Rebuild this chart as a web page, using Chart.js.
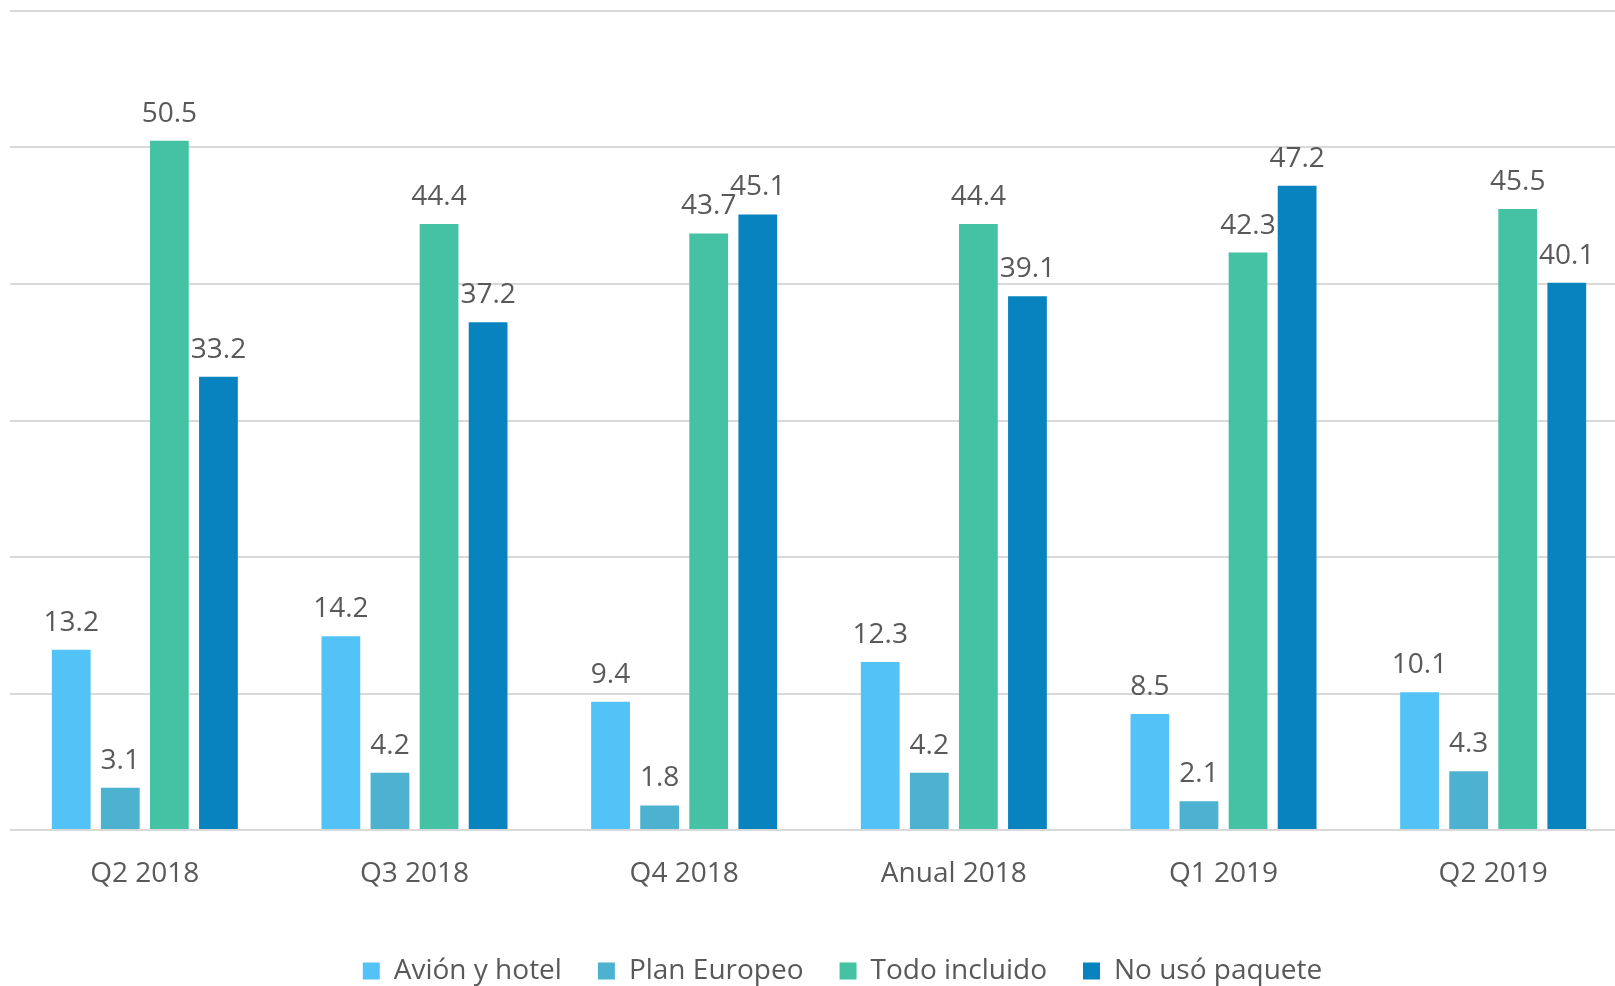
<!DOCTYPE html>
<html>
<head>
<meta charset="utf-8">
<script src="https://cdn.jsdelivr.net/npm/chart.js@4"></script>
<style>
  html, body { margin: 0; padding: 0; background: #fff; }
  #wrap { width: 1615px; height: 986px; }
</style>
</head>
<body>
<div id="wrap"><canvas id="chart"></canvas></div>
<script>
const categories = ["Q2 2018", "Q3 2018", "Q4 2018", "Anual 2018", "Q1 2019", "Q2 2019"];
const avionHotel = [13.2, 14.2, 9.4, 12.3, 8.5, 10.1];
const planEuropeo = [3.1, 4.2, 1.8, 4.2, 2.1, 4.3];
const todoIncluido = [50.5, 44.4, 43.7, 44.4, 42.3, 45.5];
const noUsoPaquete = [33.2, 37.2, 45.1, 39.1, 47.2, 40.1];

const textColor = "#595959";
const fontFamily = "'Open Sans', 'Noto Sans', sans-serif";

// draws the value over each bar
const valueLabels = {
  id: "valueLabels",
  afterDatasetsDraw(chart) {
    const ctx = chart.ctx;
    ctx.save();
    ctx.font = "28px " + fontFamily;
    ctx.fillStyle = textColor;
    ctx.textAlign = "center";
    ctx.textBaseline = "alphabetic";
    chart.data.datasets.forEach((ds, i) => {
      chart.getDatasetMeta(i).data.forEach((bar, j) => {
        ctx.fillText(ds.data[j].toFixed(1), bar.x, bar.y - 19);
      });
    });
    ctx.restore();
  }
};

// the original is cropped on the right: let the category axis run past the edge,
// and nudge the legend to where it sits there
const layoutTweaks = {
  id: "layoutTweaks",
  afterLayout(chart) {
    const xs = chart.scales.x;
    xs.right += 13;
    xs.width += 13;
    xs.configure();
    const lg = chart.legend;
    if (!lg) return;
    lg.top += 9; lg.bottom += 9;
    lg.left += 30; lg.right += 30;
  }
};

new Chart(document.getElementById("chart"), {
  type: "bar",
  data: {
    labels: categories,
    datasets: [
      { label: "Avión y hotel", data: avionHotel, backgroundColor: "#53c2f7" },
      { label: "Plan Europeo", data: planEuropeo, backgroundColor: "#4db2cf" },
      { label: "Todo incluido", data: todoIncluido, backgroundColor: "#45c2a3" },
      { label: "No usó paquete", data: noUsoPaquete, backgroundColor: "#0983bf" }
    ]
  },
  options: {
    responsive: true,
    maintainAspectRatio: false,
    animation: false,
    categoryPercentage: 0.728,
    barPercentage: 0.79,
    layout: { padding: { left: 10, right: 0, top: 11, bottom: 0 } },
    plugins: {
      tooltip: { enabled: false },
      legend: {
        position: "bottom",
        labels: {
          boxWidth: 17,
          boxHeight: 17,
          padding: 36,
          color: textColor,
          font: { family: fontFamily, size: 28 }
        }
      }
    },
    scales: {
      x: {
        grid: { display: false, drawTicks: false },
        border: { display: false },
        ticks: { color: textColor, padding: 27, font: { family: fontFamily, size: 28 } },
        afterFit: (scale) => { scale.height = 82; }
      },
      y: {
        min: 0,
        max: 60,
        ticks: { display: false, stepSize: 10 },
        grid: { color: "#d9d9d9", lineWidth: 2, drawTicks: false },
        border: { display: false }
      }
    }
  },
  plugins: [valueLabels, layoutTweaks]
});
</script>
</body>
</html>
